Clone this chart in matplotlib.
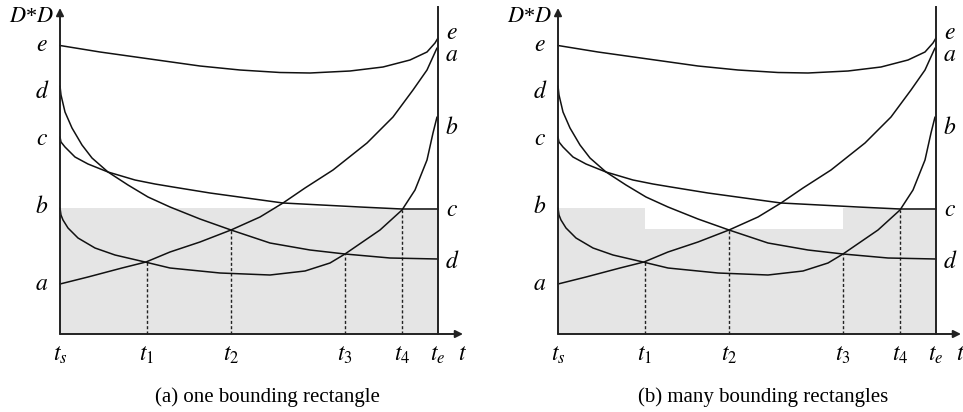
import matplotlib.pyplot as plt

plt.rcParams['mathtext.fontset'] = 'stix'
plt.rcParams['font.family'] = ['Liberation Serif', 'DejaVu Serif']

# Curves (x: time from t_s, y: D*D)
e_x = [0, 40, 90, 140, 180, 220, 250, 290, 323, 350, 367, 375, 378]
e_y = [288.5, 282, 275, 268, 264, 261.5, 261, 263, 267, 274, 282, 291, 296]

a_x = [0, 28, 62, 86, 110, 140, 171, 200, 223, 245, 273, 307, 333, 353, 367, 377]
a_y = [50, 57, 66, 72, 82, 92, 104, 117, 131, 146, 164, 191, 217, 244, 264, 286]

b_x = [0, 1, 3, 8, 18, 35, 55, 85, 110, 160, 210, 245, 270, 285, 320, 342, 355, 367, 373, 377]
b_y = [126, 119, 114, 106, 96, 86, 79, 72, 66, 61, 59, 63, 71, 80, 104, 124, 144, 174, 201, 217]

c_x = [0, 1, 5, 15, 28, 48, 75, 95, 113, 150, 223, 300, 342, 378]
c_y = [197, 192, 187, 177, 170, 162, 154, 150, 147, 141, 131, 127, 125, 125]

d_x = [0, 1, 5, 12, 22, 32, 48, 68, 88, 110, 140, 171, 210, 250, 285, 330, 378]
d_y = [248, 239, 222, 206, 189, 176, 162, 149, 137, 127, 115, 104, 91, 84, 80, 76, 75]

# time marks and crossing heights
t_pos = [0, 87, 171, 285, 342, 378]
t_labels = [r'$t_s$', r'$t_1$', r'$t_2$', r'$t_3$', r'$t_4$', r'$t_e$']
cross_t = [87, 171, 285, 342]
cross_y = [72, 104, 80, 124]

# curve names at both ends
left_names = ['e', 'd', 'c', 'b', 'a']
left_y = [289, 242, 195, 127, 50]
right_names = ['e', 'a', 'b', 'c', 'd']
right_y = [301, 279, 206, 124, 72]

# bounding rectangles
rect1_x = [0, 378]
rect1_y = [126, 126]
rect2_x = [0, 87, 285, 378]
rect2_y = [126, 105, 126, 126]

captions = ['(a) one bounding rectangle', '(b) many bounding rectangles']

fig = plt.figure(figsize=(9.63, 4.12), dpi=100)
ax1 = fig.add_axes([0, 0, 480 / 963, 1])
ax2 = fig.add_axes([480 / 963, 0, 483 / 963, 1])


def draw_panel(ax, x0, width, rx, ry, caption, cap_x):
    ax.set_xlim(-x0, -x0 + width)
    ax.set_ylim(-78, 334)
    ax.axis('off')

    ax.fill_between(rx, 0, ry, step='post', color='#e5e5e5', lw=0, zorder=0)

    for xs, ys in [(e_x, e_y), (a_x, a_y), (b_x, b_y), (c_x, c_y), (d_x, d_y)]:
        ax.plot(xs, ys, color='#111111', lw=1.1, zorder=3,
                solid_joinstyle='round', solid_capstyle='round')

    ax.vlines(cross_t, 0, cross_y, colors='#222222', lw=1.0,
              linestyles=(0, (2.2, 1.6)), zorder=2)

    # axes with arrows
    ax.annotate('', xy=(0, 326), xytext=(0, 0),
                arrowprops=dict(arrowstyle='-|>', lw=1.4, color='#222222',
                                mutation_scale=11, shrinkA=0, shrinkB=0))
    ax.annotate('', xy=(403, 0), xytext=(0, 0),
                arrowprops=dict(arrowstyle='-|>', lw=1.4, color='#222222',
                                mutation_scale=11, shrinkA=0, shrinkB=0))
    ax.plot([378, 378], [0, 327], color='#222222', lw=1.4, zorder=4)

    for name, y in zip(left_names, left_y):
        ax.text(-18, y, '$' + name + '$', fontsize=17, ha='center', va='center')
    for name, y in zip(right_names, right_y):
        ax.text(392, y, '$' + name + '$', fontsize=17, ha='center', va='center')
    for x, lab in zip(t_pos, t_labels):
        ax.text(x, -21, lab, fontsize=17, ha='center', va='center')
    ax.text(402, -20, '$t$', fontsize=17, ha='center', va='center')
    ax.text(-29, 317, '$D$*$D$', fontsize=16, ha='center', va='center')

    ax.text(cap_x, -63, caption, fontsize=15, ha='center', va='center')


draw_panel(ax1, 60, 480, rect1_x, rect1_y, captions[0], 207)
draw_panel(ax2, 78, 483, rect2_x, rect2_y, captions[1], 205)

fig.savefig('out.png', dpi=100)
